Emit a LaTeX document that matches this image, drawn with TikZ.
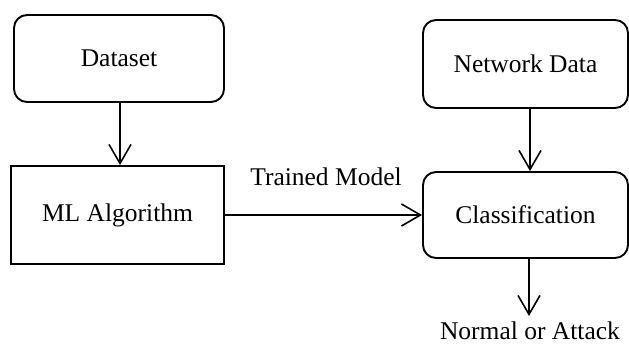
\documentclass[tikz,border=0pt]{standalone}
\usepackage{fontspec}
\setmainfont{Liberation Serif}
\usetikzlibrary{arrows.meta}
\begin{document}
\begin{tikzpicture}[x=1pt,y=-1pt,
  every node/.style={font=\fontsize{25.5}{30}\selectfont},
  roundbox/.style={draw, line width=1.9pt, rounded corners=13pt, inner sep=0pt, minimum width=#1},
  sqbox/.style={draw, line width=1.9pt, inner sep=0pt},
  flow/.style={line width=1.6pt, -{Straight Barb[length=19pt,width=22pt,line width=1.6pt]}}]
\useasboundingbox (0,0) rectangle (629,344);
% boxes
\node[roundbox=210pt, minimum height=87pt] (data) at (119,58.5) {Dataset};
\node[sqbox, minimum width=213pt, minimum height=98pt] (ml) at (117.5,215) {ML Algorithm};
\node[roundbox=205pt, minimum height=88pt] (net) at (525.5,64) {Network Data};
\node[roundbox=205pt, minimum height=86pt] (cls) at (525.5,215) {Classification};
% labels
\node (tm) at (326,177) {Trained Model};
\node[inner sep=1pt] (out) at (530,331) {Normal or Attack};
\coordinate (outtop) at (529,316);
% connectors
\draw[flow] (data.south -| 120,0) -- (ml.north -| 120,0);
\draw[flow] (ml.east) -- (cls.west);
\draw[flow] (net.south -| 530,0) -- (cls.north -| 530,0);
\draw[flow] (cls.south -| 529,0) -- (outtop);
\end{tikzpicture}
\end{document}
